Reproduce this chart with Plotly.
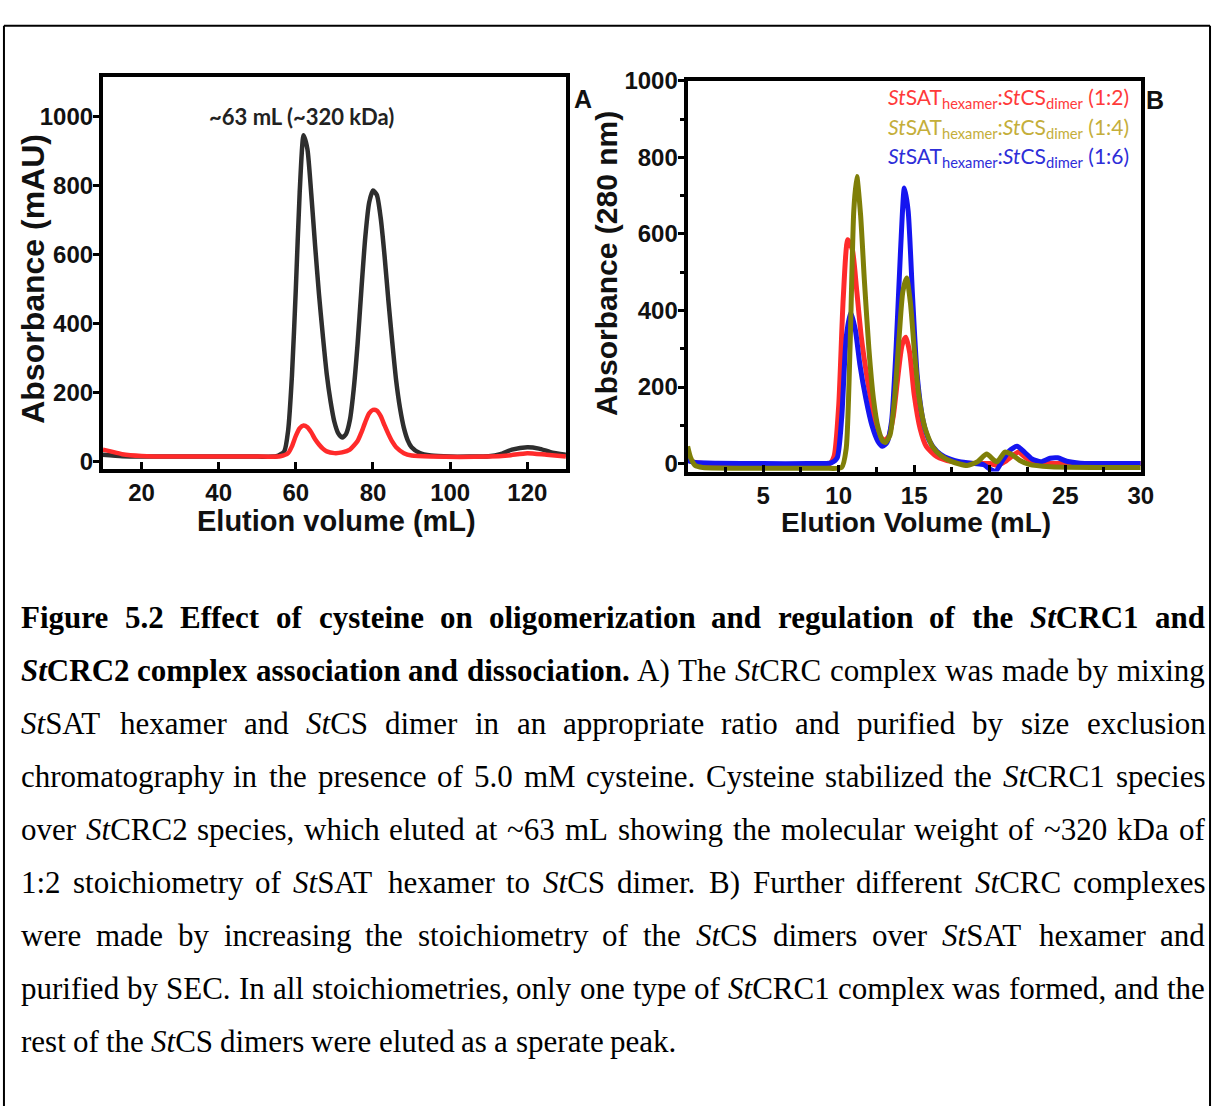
import plotly.graph_objects as go

W, H = 1225, 1112

# ---------------- data ----------------
# Panel A : SEC of StCRC (elution volume mL, absorbance mAU)
a_black_x = [10, 15, 20, 30, 40, 50, 55, 57, 58, 59, 60, 61, 62, 63, 64, 65, 66, 67, 68, 69, 70, 71, 72, 73, 74,
             75, 76, 77, 78, 79, 80, 81, 82, 83, 84, 85, 86, 87, 88, 89, 90, 92, 95, 100, 105, 110, 113, 116,
             120, 123, 126, 130]
a_black_y = [20, 16, 15, 15, 15, 15, 16, 30, 90, 250, 500, 780, 945, 905, 775, 625, 485, 365, 255, 175, 115, 82,
             70, 80, 120, 210, 340, 500, 650, 750, 785, 772, 705, 595, 465, 345, 235, 155, 98, 62, 42, 26, 18,
             15, 15, 16, 22, 35, 42, 38, 28, 20]
a_red_x = [10, 12, 15, 20, 30, 40, 50, 56, 58, 59, 60, 61, 62, 63, 64, 65, 66, 67, 68, 70, 72, 74, 76, 77, 78,
           79, 80, 81, 82, 83, 84, 85, 86, 88, 90, 95, 110, 115, 120, 125, 130]
a_red_y = [35, 30, 22, 17, 15, 15, 15, 16, 25, 45, 75, 97, 105, 100, 85, 65, 50, 38, 30, 25, 27, 35, 60, 85, 115,
           140, 150, 148, 132, 105, 80, 58, 42, 25, 18, 15, 15, 18, 25, 20, 15]

# Panel B : three stoichiometries (elution volume mL, absorbance 280 nm)
b_red_x = [0, 0.5, 2, 5, 8, 9.4, 9.7, 10.0, 10.3, 10.6, 10.9, 11.2, 11.5, 11.9, 12.3, 12.7, 13.0, 13.3, 13.6,
           13.9, 14.2, 14.45, 14.7, 15.0, 15.4, 15.8, 16.5, 17.5, 19, 20, 20.5, 21.0, 21.5, 21.9, 22.4, 23, 25, 30]
b_red_y = [10, 3, -2, -3, -3, 0, 20, 150, 430, 585, 560, 450, 330, 220, 130, 75, 60, 70, 120, 220, 310, 330,
           290, 180, 90, 45, 18, 5, 0, 0, -5, 5, 20, 30, 15, 3, 0, 0]
b_blue_x = [0, 0.5, 2, 5, 8, 9.5, 9.9, 10.2, 10.5, 10.8, 11.1, 11.4, 11.8, 12.2, 12.6, 12.9, 13.2, 13.5, 13.8,
            14.1, 14.35, 14.6, 14.9, 15.2, 15.6, 16.0, 16.5, 17.0, 18, 19, 19.6, 20.0, 20.4, 20.8, 21.3, 21.8,
            22.3, 22.8, 23.4, 24.0, 24.5, 25.1, 26, 30]
b_blue_y = [8, 3, 1, 0, 0, 2, 15, 120, 330, 395, 350, 260, 170, 100, 58, 45, 55, 110, 300, 560, 720, 660, 430,
            230, 110, 60, 32, 18, 5, 0, -3, -14, -20, 5, 33, 45, 30, 12, 5, 14, 15, 6, 1, 0]
b_olive_x = [0, 0.2, 0.5, 1, 5, 9, 10.2, 10.5, 10.75, 11.0, 11.2, 11.45, 11.7, 12.0, 12.3, 12.6, 12.9, 13.1,
             13.4, 13.7, 14.0, 14.25, 14.5, 14.75, 15.0, 15.3, 15.7, 16.2, 16.8, 17.5, 18.5, 19.2, 19.8, 20.3,
             20.5, 21.0, 21.4, 22.0, 22.6, 24, 30]
b_olive_y = [45, 15, -5, -10, -12, -12, -10, 40, 300, 660, 750, 650, 480, 300, 170, 95, 60, 55, 75, 170, 330,
             450, 485, 420, 300, 180, 95, 45, 20, 5, -5, 5, 25, 8, 5, 30, 25, 8, -2, -8, -10]

a_xticks = [20, 40, 60, 80, 100, 120]
a_yticks = [0, 200, 400, 600, 800, 1000]
b_xticks = [5, 10, 15, 20, 25, 30]
b_yticks = [0, 200, 400, 600, 800, 1000]

a_xtitle = "Elution volume (mL)"
a_ytitle = "Absorbance (mAU)"
b_xtitle = "Elution Volume (mL)"
b_ytitle = "Absorbance (280 nm)"
a_note = "~63 mL (~320 kDa)"
b_series_labels = ["<i>St</i>SAT<sub>hexamer</sub>:<i>St</i>CS<sub>dimer</sub> (1:2)",
                   "<i>St</i>SAT<sub>hexamer</sub>:<i>St</i>CS<sub>dimer</sub> (1:4)",
                   "<i>St</i>SAT<sub>hexamer</sub>:<i>St</i>CS<sub>dimer</sub> (1:6)"]

caption_lines = [
    "<b>Figure 5.2 Effect of cysteine on oligomerization and regulation of the <i>St</i>CRC1 and</b>",
    "<b><i>St</i>CRC2 complex association and dissociation.</b> A) The <i>St</i>CRC complex was made by mixing",
    "<i>St</i>SAT hexamer and <i>St</i>CS dimer in an appropriate ratio and purified by size exclusion",
    "chromatography in the presence of 5.0 mM cysteine. Cysteine stabilized the <i>St</i>CRC1 species",
    "over <i>St</i>CRC2 species, which eluted at ~63 mL showing the molecular weight of ~320 kDa of",
    "1:2 stoichiometry of <i>St</i>SAT hexamer to <i>St</i>CS dimer. B) Further different <i>St</i>CRC complexes",
    "were made by increasing the stoichiometry of the <i>St</i>CS dimers over <i>St</i>SAT hexamer and",
    "purified by SEC. In all stoichiometries, only one type of <i>St</i>CRC1 complex was formed, and the",
    "rest of the <i>St</i>CS dimers were eluted as a sperate peak.",
]

# ---------------- styling ----------------
SANS = "Liberation Sans, Arial, sans-serif"
CAL = "Lato, Carlito, Calibri, sans-serif"
SERIF = "Liberation Serif, Times New Roman, serif"

RED_A = "#ff2a2a"
BLACK_A = "#2e2e2e"
RED_B = "#ff2b2b"
OLIVE_B = "#7f7f08"
BLUE_B = "#1515f0"
label_colors = ["#ff3a3a", "#c4ae3a", "#2e2ed8"]


def px(x):
    return x / W


def py(y):
    return 1 - y / H


fig = go.Figure()

fig.add_trace(go.Scatter(x=a_black_x, y=a_black_y, mode="lines", xaxis="x", yaxis="y",
                         line=dict(color=BLACK_A, width=4.5, shape="spline", smoothing=0.6), showlegend=False))
fig.add_trace(go.Scatter(x=a_red_x, y=a_red_y, mode="lines", xaxis="x", yaxis="y",
                         line=dict(color=RED_A, width=4.5, shape="spline", smoothing=0.6), showlegend=False))

fig.add_trace(go.Scatter(x=b_red_x, y=b_red_y, mode="lines", xaxis="x2", yaxis="y2",
                         line=dict(color=RED_B, width=5, shape="spline", smoothing=0.6), showlegend=False))
fig.add_trace(go.Scatter(x=b_blue_x, y=b_blue_y, mode="lines", xaxis="x2", yaxis="y2",
                         line=dict(color=BLUE_B, width=5, shape="spline", smoothing=0.6), showlegend=False))
fig.add_trace(go.Scatter(x=b_olive_x, y=b_olive_y, mode="lines", xaxis="x2", yaxis="y2",
                         line=dict(color=OLIVE_B, width=5, shape="spline", smoothing=0.6), showlegend=False))

tickfont = dict(family=SANS, size=24, color="#111111", weight="bold")
axis_common = dict(showline=True, linewidth=4, linecolor="black", mirror=True, showgrid=False,
                   zeroline=False, tickfont=tickfont, tickcolor="black", tickwidth=3)

fig.update_layout(
    width=W, height=H, margin=dict(l=0, r=0, t=0, b=0),
    paper_bgcolor="white", plot_bgcolor="white", showlegend=False,
    xaxis=dict(domain=[px(104), px(572)], range=[10, 130], tickvals=a_xticks, ticks="inside", ticklen=7,
               anchor="y", **axis_common),
    yaxis=dict(domain=[py(463), py(64)], range=[-20, 1114], tickvals=a_yticks, ticks="outside", ticklen=6,
               ticklabelstandoff=-5, anchor="x", **axis_common),
    xaxis2=dict(domain=[px(695), px(1153)], range=[0, 30], tickvals=b_xticks, ticks="inside", ticklen=7,
                anchor="y2", minor=dict(dtick=2.5, ticks="inside", ticklen=5, tickwidth=3, tickcolor="black"),
                **axis_common),
    yaxis2=dict(domain=[py(466), py(68)], range=[-21, 1000], tickvals=b_yticks, ticks="outside", ticklen=6,
                ticklabelstandoff=-5, anchor="x2",
                minor=dict(dtick=100, ticks="outside", ticklen=4, tickwidth=3, tickcolor="black"),
                **axis_common),
)

ann = []
ann.append(dict(text=a_xtitle, x=px(340), y=py(516), xref="paper", yref="paper", showarrow=False,
                font=dict(family=SANS, size=29, color="#111111", weight="bold"),
                xanchor="center", yanchor="middle"))
ann.append(dict(text=b_xtitle, x=px(926), y=py(518), xref="paper", yref="paper", showarrow=False,
                font=dict(family=SANS, size=28, color="#111111", weight="bold"),
                xanchor="center", yanchor="middle"))
ann.append(dict(text=a_ytitle, x=px(33), y=py(270), xref="paper", yref="paper", showarrow=False,
                font=dict(family=SANS, size=32, color="#111111", weight="bold"),
                xanchor="center", yanchor="middle", textangle=-90))
ann.append(dict(text=b_ytitle, x=px(613), y=py(254), xref="paper", yref="paper", showarrow=False,
                font=dict(family=SANS, size=30, color="#111111", weight="bold"),
                xanchor="center", yanchor="middle", textangle=-90))
ann.append(dict(text="A", x=px(589), y=py(87), xref="paper", yref="paper", showarrow=False,
                font=dict(family=SANS, size=25, color="#111111", weight="bold"), xanchor="center", yanchor="middle"))
ann.append(dict(text="B", x=px(1167), y=py(88), xref="paper", yref="paper", showarrow=False,
                font=dict(family=SANS, size=25, color="#111111", weight="bold"), xanchor="center", yanchor="middle"))
ann.append(dict(text=a_note, x=61.5, y=1000, xref="x", yref="y", showarrow=False,
                font=dict(family=CAL, size=22, color="#222222", weight="bold"), xanchor="center", yanchor="middle"))
for i, (lab, col) in enumerate(zip(b_series_labels, label_colors)):
    ann.append(dict(text=lab, x=px(1143), y=py(86 + 30 * i), xref="paper", yref="paper", showarrow=False,
                    font=dict(family=CAL, size=21, color=col), xanchor="right", yanchor="middle"))

# ---------------- caption (justified, word by word) ----------------
low = "abcdefghijklmnopqrstuvwxyz"
up = "ABCDEFGHIJKLMNOPQRSTUVWXYZ"
TR = dict(zip(low, [444, 500, 444, 500, 444, 333, 500, 500, 278, 278, 500, 278, 778, 500, 500, 500, 500, 333,
                    389, 278, 500, 500, 722, 500, 500, 444]))
TR.update(zip(up, [722, 667, 667, 722, 611, 556, 722, 722, 333, 389, 722, 611, 889, 722, 722, 556, 722, 667,
                   556, 611, 722, 722, 944, 722, 722, 611]))
TR.update({c: 500 for c in "0123456789"})
TR.update({" ": 250, ".": 250, ",": 250, ":": 278, "(": 333, ")": 333, "~": 541, "-": 333})
TB = dict(zip(low, [500, 556, 444, 556, 444, 333, 500, 556, 278, 333, 556, 278, 833, 556, 500, 556, 556, 444,
                    389, 333, 556, 500, 722, 500, 500, 444]))
TB.update(zip(up, [722, 667, 722, 722, 667, 611, 778, 778, 389, 500, 778, 667, 944, 722, 778, 611, 778, 722,
                   556, 667, 722, 722, 1000, 722, 722, 667]))
TB.update({c: 500 for c in "0123456789"})
TB.update({" ": 250, ".": 250, ",": 250, ":": 333, "(": 333, ")": 333, "~": 520, "-": 333})
TI = {"S": 500, "t": 278}
TBI = {"S": 556, "t": 278}


def cw(ch, b, it):
    if it:
        t = TBI if b else TI
        if ch in t:
            return t[ch]
    return (TB if b else TR).get(ch, 500)


def parse_words(s):
    words, cur, bold, ital, i = [], [], False, False, 0
    while i < len(s):
        if s.startswith("<b>", i):
            bold = True; i += 3; continue
        if s.startswith("</b>", i):
            bold = False; i += 4; continue
        if s.startswith("<i>", i):
            ital = True; i += 3; continue
        if s.startswith("</i>", i):
            ital = False; i += 4; continue
        ch = s[i]
        if ch == " ":
            if cur:
                words.append(cur); cur = []
        else:
            cur.append((ch, bold, ital))
        i += 1
    if cur:
        words.append(cur)
    return words


def word_html(w):
    out, run, style = "", "", None
    for ch, b, it in w + [(None, None, None)]:
        if (b, it) != style:
            if run:
                t = run
                if style[1]:
                    t = "<i>" + t + "</i>"
                if style[0]:
                    t = "<b>" + t + "</b>"
                out += t
            run, style = "", (b, it)
        if ch is not None:
            run += ch
    return out


FS = 31
LEFT, RIGHT = 20, 1216
BASE0, PITCH = 625, 54
for li, line in enumerate(caption_lines):
    words = parse_words(line)
    widths = [sum(cw(c, b, it) for c, b, it in w) * FS / 1000 for w in words]
    space = 250 * FS / 1000
    natural = sum(widths) + space * (len(words) - 1)
    if li < len(caption_lines) - 1:
        gap = space + (RIGHT - LEFT - natural) / (len(words) - 1)
    else:
        gap = space
    xcur = LEFT
    yc = BASE0 + li * PITCH - 0.3375 * FS
    for w, wd in zip(words, widths):
        ann.append(dict(text=word_html(w), x=px(xcur), y=py(yc), xref="paper", yref="paper", showarrow=False,
                        font=dict(family=SERIF, size=FS, color="black"), xanchor="left", yanchor="middle",
                        borderpad=0))
        xcur += wd + gap

fig.update_layout(annotations=ann)

# outer frame
fig.update_layout(shapes=[
    dict(type="line", xref="paper", yref="paper", x0=px(4), x1=px(1223), y0=py(12), y1=py(12),
         line=dict(color="black", width=2)),
    dict(type="line", xref="paper", yref="paper", x0=px(4), x1=px(4), y0=py(12), y1=py(1112),
         line=dict(color="black", width=2)),
    dict(type="line", xref="paper", yref="paper", x0=px(1223), x1=px(1223), y0=py(12), y1=py(1112),
         line=dict(color="black", width=2)),
])

fig.write_html("out.html")
